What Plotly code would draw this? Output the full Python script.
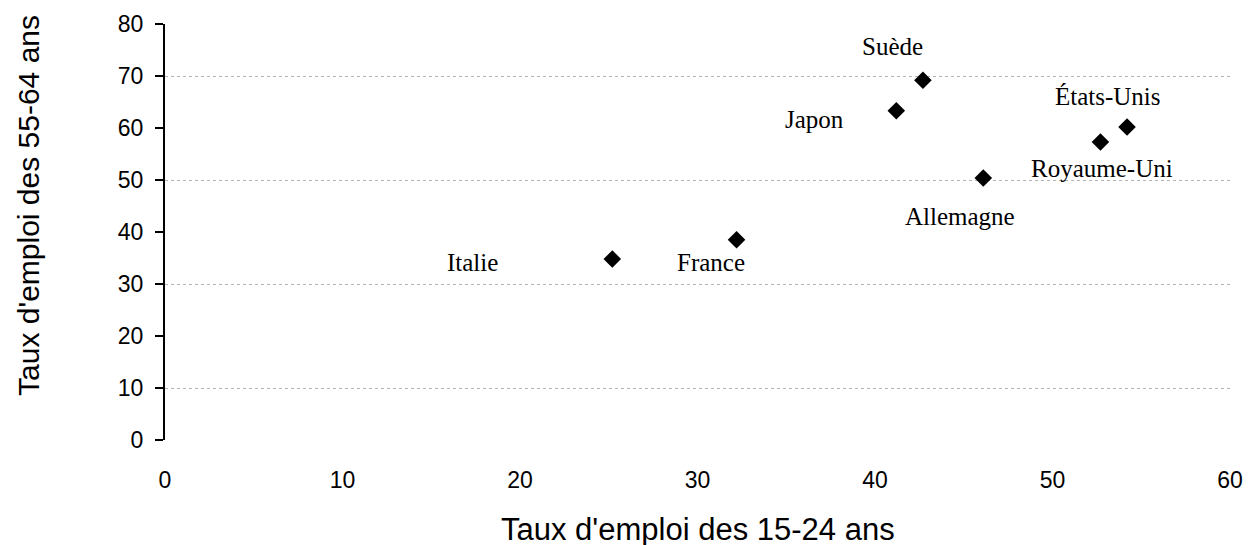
import plotly.graph_objects as go

countries = ["Italie", "France", "Japon", "Suède", "Allemagne", "Royaume-Uni", "États-Unis"]
emploi_15_24 = [25.2, 32.2, 41.2, 42.7, 46.1, 52.7, 54.2]
emploi_55_64 = [34.8, 38.5, 63.3, 69.2, 50.4, 57.3, 60.2]
x_ticks = [0, 10, 20, 30, 40, 50, 60]
y_ticks = [0, 10, 20, 30, 40, 50, 60, 70, 80]
grid_vals = [0, 10, 30, 50, 70]

# label pixel offsets relative to each point
label_dx = [-140, -26, -82, -30, -23, 2, -19]
label_dy = [-3, -23, -9, 34, -39, -26, 30]

fig = go.Figure()
fig.add_trace(go.Scatter(
    x=emploi_15_24, y=emploi_55_64, mode="markers",
    marker=dict(symbol="diamond", size=13.5, color="black"),
    showlegend=False, hoverinfo="text", text=countries,
))
# invisible trace to bind the grid axis
fig.add_trace(go.Scatter(x=[None], y=[None], yaxis="y2", showlegend=False))

for c, x, y, dx, dy in zip(countries, emploi_15_24, emploi_55_64, label_dx, label_dy):
    fig.add_annotation(x=x, y=y, text=c, showarrow=False, xshift=dx, yshift=dy,
                       font=dict(family="Liberation Serif", size=25, color="black"))

fig.add_annotation(xref="paper", yref="paper", x=0.5, y=-0.214,
                   xanchor="center", yanchor="middle",
                   text="Taux d'emploi des 15-24 ans", showarrow=False,
                   font=dict(family="Liberation Sans", size=31, color="black"))
fig.add_annotation(xref="paper", yref="paper", x=-0.1277, y=0.565,
                   xanchor="center", yanchor="middle",
                   textangle=-90, text="Taux d'emploi des 55-64 ans", showarrow=False,
                   font=dict(family="Liberation Sans", size=30, color="black"))

fig.update_layout(
    width=1254, height=545, plot_bgcolor="white", paper_bgcolor="white",
    margin=dict(l=157, r=32, t=16, b=113, autoexpand=False),
    font=dict(family="Liberation Sans", size=23, color="black"),
    xaxis=dict(range=[0, 60], tickvals=x_ticks, showgrid=False, zeroline=False,
               showline=False, ticks="", ticklabelstandoff=24,
               tickfont=dict(size=23)),
    yaxis=dict(range=[0, 80], tickvals=y_ticks, showgrid=False, zeroline=False,
               showline=True, linecolor="black", linewidth=2, ticks="outside",
               ticklen=8, tickcolor="black", tickwidth=1.5, ticklabelstandoff=7,
               tickfont=dict(size=23)),
    yaxis2=dict(range=[0, 80], tickvals=grid_vals, overlaying="y", showticklabels=False,
                showgrid=True, gridcolor="#b4b4b4", griddash="dot", gridwidth=1,
                zeroline=False, showline=False, ticks=""),
)
fig.write_html("out.html")
